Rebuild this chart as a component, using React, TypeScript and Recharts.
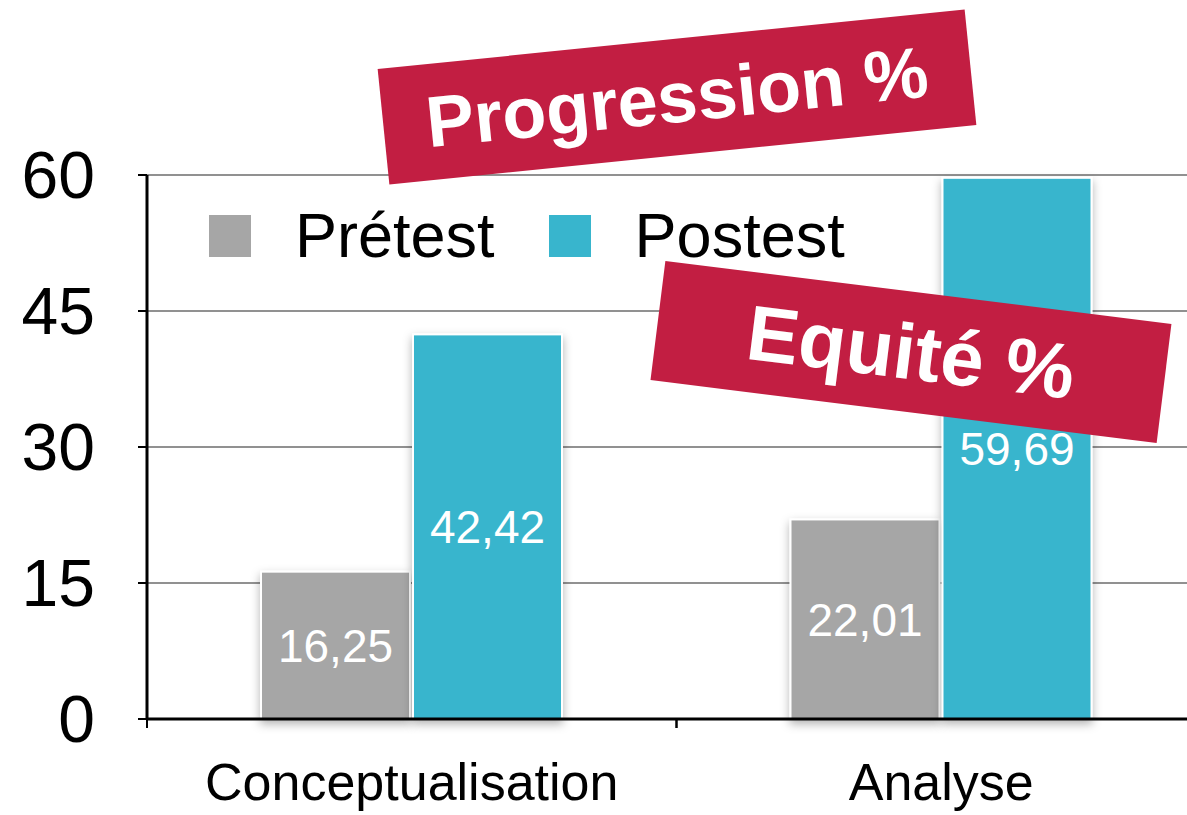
import React from 'react';
import { BarChart, Bar, XAxis, YAxis, CartesianGrid, Legend, LabelList } from 'recharts';

const categories = ['Conceptualisation', 'Analyse'];
const pretest = [16.25, 22.01];
const postest = [42.42, 59.69];
const yTicks = [0, 15, 30, 45, 60];
const seriesNames = ['Prétest', 'Postest'];
const seriesColors = ['#a6a6a6', '#38b5cd'];
const banners = ['Progression %', 'Equité %'];

const chartData = categories.map((name, i) => ({
  name,
  pretest: pretest[i],
  postest: postest[i],
}));

const FONT = '"Liberation Sans", Arial, Helvetica, sans-serif';

const formatValue = (v: any) => Number(v).toFixed(2).replace('.', ',');

const ShadowBar = (props: any) => {
  const { x, y, width, height, fill } = props;
  if (!height) return null;
  return (
    <rect
      x={x}
      y={y}
      width={width}
      height={height}
      fill={fill}
      stroke="#fff"
      strokeWidth={2}
      filter="url(#barShadow)"
    />
  );
};

// category ticks sit on band edges, labels in the middle
const CategoryTick = (props: any) => {
  const { x, y, payload } = props;
  const half = payload.offset || 0;
  return (
    <g>
      <line x1={x - half} y1={y} x2={x - half} y2={y + 9} stroke="#000" strokeWidth={2} />
      <line x1={x + half} y1={y} x2={x + half} y2={y + 9} stroke="#000" strokeWidth={2} />
      <text x={x} y={y + 81} textAnchor="middle" fontSize={52} fill="#000" fontFamily={FONT}>
        {payload.value}
      </text>
    </g>
  );
};

const renderLegend = () => (
  <div style={{ display: 'flex', alignItems: 'center', fontFamily: FONT, fontSize: 63, lineHeight: 1 }}>
    {seriesNames.map((name, i) => (
      <div key={name} style={{ display: 'flex', alignItems: 'center', marginRight: 53 }}>
        <div
          style={{
            width: 42,
            height: 42,
            background: seriesColors[i],
            border: '1px solid #fff',
            marginRight: 43,
          }}
        />
        <span style={{ color: '#000' }}>{name}</span>
      </div>
    ))}
  </div>
);

const bannerStyle: React.CSSProperties = {
  position: 'absolute',
  background: '#c21e42',
  color: '#fff',
  fontFamily: FONT,
  fontWeight: 700,
  display: 'flex',
  alignItems: 'center',
  justifyContent: 'center',
  lineHeight: 1,
  whiteSpace: 'nowrap',
};

export default function App() {
  return (
    <div
      style={{
        position: 'absolute',
        left: 0,
        top: 0,
        width: 1187,
        height: 815,
        overflow: 'hidden',
        background: '#fff',
      }}
    >
      <svg width={0} height={0} style={{ position: 'absolute' }}>
        <defs>
          <filter id="barShadow" x="-20%" y="-20%" width="140%" height="140%">
            <feDropShadow dx={0} dy={4} stdDeviation={5} floodColor="#000" floodOpacity={0.3} />
          </filter>
        </defs>
      </svg>
      <BarChart
        width={1210}
        height={815}
        data={chartData}
        margin={{ top: 175, right: 4, bottom: 0, left: 0 }}
        barSize={149}
        barGap={3}
        style={{ fontFamily: FONT }}
      >
        <CartesianGrid horizontal vertical={false} stroke="#919191" strokeWidth={2} />
        <XAxis
          dataKey="name"
          height={96}
          axisLine={{ stroke: '#000', strokeWidth: 3 }}
          tickLine={false}
          tickSize={0}
          tickMargin={0}
          tick={<CategoryTick />}
          interval={0}
        />
        <YAxis
          width={147}
          domain={[0, 60]}
          ticks={yTicks}
          axisLine={{ stroke: '#000', strokeWidth: 3 }}
          tickLine={{ stroke: '#000', strokeWidth: 2 }}
          tickSize={9}
          tickMargin={43}
          tick={{ fontSize: 66, fill: '#000', fontFamily: FONT }}
        />
        <Legend
          content={renderLegend}
          layout="vertical"
          align="center"
          verticalAlign="middle"
          wrapperStyle={{ top: 204, left: 208, width: 'auto' }}
        />
        <Bar dataKey="pretest" name={seriesNames[0]} fill={seriesColors[0]} shape={<ShadowBar />} isAnimationActive={false}>
          <LabelList dataKey="pretest" position="center" fill="#fff" fontSize={46} formatter={formatValue} />
        </Bar>
        <Bar dataKey="postest" name={seriesNames[1]} fill={seriesColors[1]} shape={<ShadowBar />} isAnimationActive={false}>
          <LabelList dataKey="postest" position="center" fill="#fff" fontSize={46} formatter={formatValue} />
        </Bar>
      </BarChart>
      <div
        style={{
          ...bannerStyle,
          left: 677 - 295,
          top: 97 - 58,
          width: 590,
          height: 116,
          fontSize: 72,
          transform: 'rotate(-5.8deg)',
        }}
      >
        {banners[0]}
      </div>
      <div
        style={{
          ...bannerStyle,
          left: 911 - 255,
          top: 352 - 60,
          width: 510,
          height: 120,
          fontSize: 78,
          transform: 'rotate(7.1deg)',
        }}
      >
        {banners[1]}
      </div>
    </div>
  );
}
